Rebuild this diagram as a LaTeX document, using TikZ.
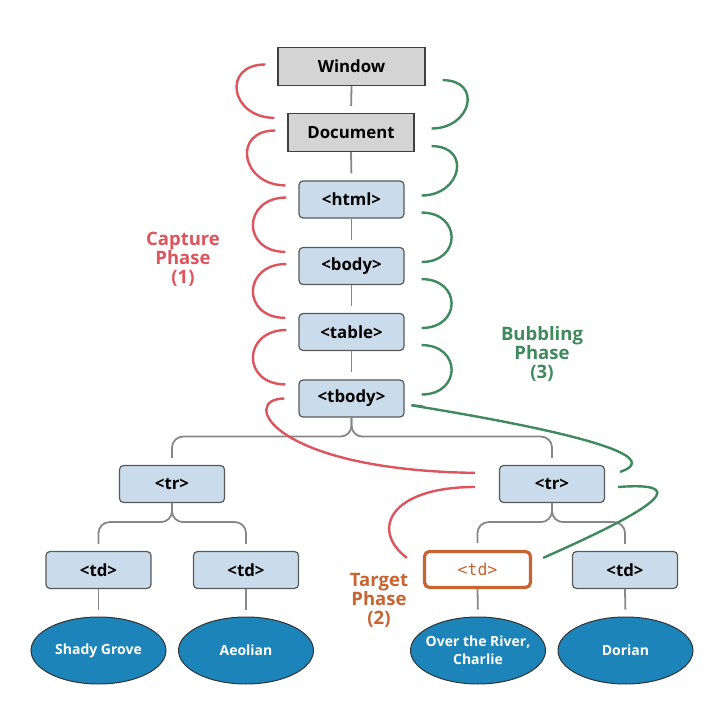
\documentclass[tikz,border=0pt]{standalone}
\usepackage{fontspec}
\setmainfont{Open Sans}
\setmonofont{DejaVu Sans Mono}
\usetikzlibrary{shapes.geometric}
\definecolor{capred}{RGB}{220,84,92}
\definecolor{bubgreen}{RGB}{62,138,92}
\definecolor{tgtorange}{RGB}{200,100,50}
\definecolor{tagblue}{RGB}{202,220,235}
\definecolor{objgray}{RGB}{212,212,212}
\definecolor{leafblue}{RGB}{28,132,184}
\definecolor{linegray}{RGB}{135,135,135}

\begin{document}
\begin{tikzpicture}[x=1pt,y=-1pt,
  objbox/.style={draw=black!75,fill=objgray,line width=1.3pt,minimum height=38,inner sep=0,font=\bfseries\fontsize{16.8}{19}\selectfont},
  tagbox/.style={draw=black!65,fill=tagblue,line width=1.2pt,rounded corners=4,minimum width=105,minimum height=37,inner sep=0,font=\bfseries\fontsize{16.8}{19}\selectfont},
  tgtbox/.style={draw=tgtorange,fill=white,line width=3.2pt,rounded corners=5,minimum width=106,minimum height=36,inner sep=0,text=tgtorange,font=\ttfamily\fontsize{16.5}{19}\selectfont},
  leaf/.style={ellipse,draw=black!80,fill=leafblue,line width=1pt,minimum width=135,minimum height=67,inner xsep=-15pt,inner ysep=0,text=white,align=center,font=\bfseries\fontsize{14}{18}\selectfont},
  phase/.style={align=center,font=\bfseries\fontsize{18.5}{19}\selectfont},
  tree/.style={draw=linegray,line width=1.8pt,rounded corners=11,shorten >=7},
  capture/.style={draw=capred,line width=2.4pt},
  bubble/.style={draw=bubgreen,line width=2.4pt}]
\useasboundingbox (0,0) rectangle (718,708);

%Objects
\node[objbox,minimum width=147] (win) at (351.5,66.5) {Window};
\node[objbox,minimum width=126] (doc) at (351,132.5) {Document};
%Tags
\node[tagbox] (html) at (351.5,199.5) {<html>};
\node[tagbox] (body) at (351.5,266) {<body>};
\node[tagbox] (tbl) at (351.5,332) {<table>};
\node[tagbox] (tbody) at (351.5,398.5) {<tbody>};
\node[tagbox] (trl) at (172,484) {<tr>};
\node[tagbox] (trr) at (552,484) {<tr>};
\node[tagbox] (tda) at (98.5,570) {<td>};
\node[tagbox] (tdb) at (246,570) {<td>};
\node[tgtbox] (tgt) at (477.5,569.5) {<td>};
\node[tagbox] (tdr) at (625,570) {<td>};
%Leaves
\node[leaf] (grove) at (98.5,650.5) {Shady Grove};
\node[leaf] (aeol) at (246,650.5) {Aeolian};
\node[leaf] (river) at (478,650.5) {Over the River,\\Charlie};
\node[leaf] (dor) at (625.5,650.5) {Dorian};
%Phase labels
\node[phase,text=capred] (caplbl) at (183,259) {Capture\\Phase\\(1)};
\node[phase,text=bubgreen] (bublbl) at (542,354) {Bubbling\\Phase\\(3)};
\node[phase,text=tgtorange] (tgtlbl) at (379,600) {Target\\Phase\\(2)};

%Straight Lines
\foreach \a/\b in {win/doc,doc/html,html/body,body/tbl,tbl/tbody,tda/grove,tdb/aeol,tgt/river,tdr/dor}
  \draw[tree] (\a.south) -- (\b.north);
%Branches
\foreach \a/\b in {tbody/trl,tbody/trr,trl/tda,trl/tdb,trr/tgt,trr/tdr}
  \draw[tree] (\a.south) -- ++(0,19) -| (\b.north);

%Curve Lines: capture
\foreach \a/\b in {win/doc,doc/html,html/body,body/tbl,tbl/tbody}
  \draw[capture] ([shift={(-12,-2)}]\a.west) .. controls +(-44,0) and +(-44,0) .. ([shift={(-13,5)}]\b.north west);
\draw[capture] ([shift={(-14,0)}]tbody.west) .. controls +(-45,0) and +(-205,-3) .. ([shift={(-24,8)}]trr.north west);
\draw[capture] ([shift={(-24,3)}]trr.west) .. controls +(-85,0) and +(-37,-28) .. ([shift={(-16,8)}]tgt.north west);
%Curve Lines: bubbling
\foreach \a/\b in {doc/win,html/doc,body/html,tbl/body,tbody/tbl}
  \draw[bubble] ([shift={(17,-4)}]\a.east) .. controls +(40,0) and +(40,0) .. ([shift={(17,-6)}]\b.south east);
\draw[bubble] ([shift={(15,7)}]trr.north east) .. controls +(80,-27) and +(-78,-10) .. ([shift={(18,8)}]tbody.east);
\draw[bubble] ([shift={(11,8)}]tgt.north east) .. controls +(127,-56) and +(67,-5) .. ([shift={(13,3)}]trr.east);

\end{tikzpicture}
\end{document}
